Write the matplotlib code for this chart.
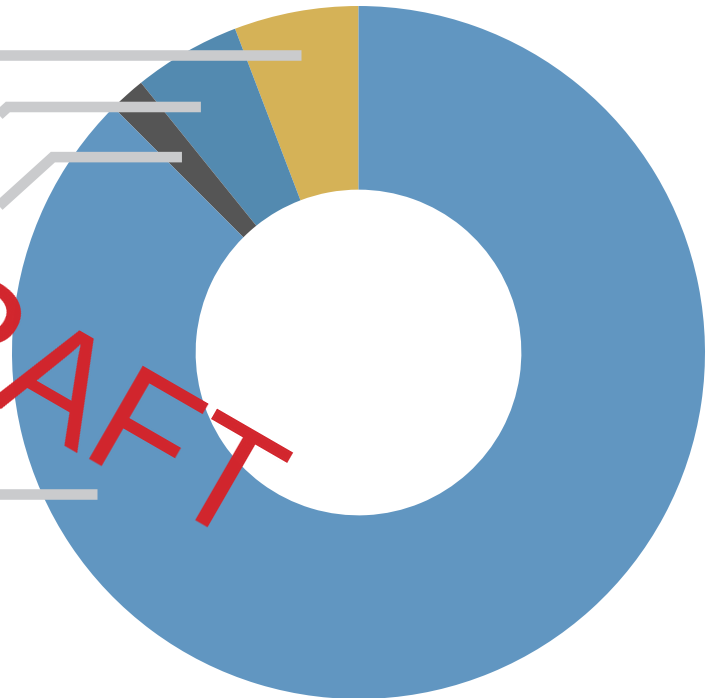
import matplotlib
matplotlib.use("Agg")
import matplotlib.pyplot as plt
import numpy as np

# Ring shares, counter-clockwise from 12 o'clock
shares = [5.8, 5.0, 1.7, 87.5]
colors = ["#D5B257", "#538AB0", "#555555", "#6196C1"]

# Leader lines: anchor on the ring (angle in degrees, radius) and the elbow
# the line runs out from, in axes units of the ring radius
leader_anchor = [(100.9, 0.874), (122.7, 0.842), (132.1, 0.760), (208.4, 0.858)]
leader_elbow = [None, (-1.012, 0.855), (-0.882, 0.565), None]
LINE_COLOR = "#CACBCD"

W, H, DPI = 712, 698, 100
CX, CY, R = 358.5, 352.5, 346.5  # ring centre and radius in pixels

fig = plt.figure(figsize=(W / DPI, H / DPI), dpi=DPI)
ax = fig.add_axes([0, 0, 1, 1])

ax.pie(shares, colors=colors, startangle=90, counterclock=True, radius=1.0,
       wedgeprops=dict(width=0.53, linewidth=0))

# pie() resets the limits, so set them afterwards
ax.set_aspect("auto")
ax.set_xlim(-CX / R, (W - CX) / R)
ax.set_ylim(-(H - CY) / R, CY / R)
ax.axis("off")

for (ang, rad), elbow in zip(leader_anchor, leader_elbow):
    ex = rad * np.cos(np.radians(ang))
    ey = rad * np.sin(np.radians(ang))
    if elbow is None:
        xs, ys = [-1.5, ex], [ey, ey]
    else:
        bx = elbow[0]
        xs = [bx - 0.5, bx, ex]
        ys = [ey - 0.5 * 0.906, ey, ey]
    ax.plot(xs, ys, color=LINE_COLOR, lw=7.6, solid_capstyle="butt",
            solid_joinstyle="miter", zorder=3, clip_on=False)

ax.text(-0.93, -0.105, "DRAFT", color="#D2252C", fontsize=112,
        family="Liberation Sans", rotation=-30, rotation_mode="anchor",
        ha="center", va="center", zorder=4)

fig.savefig("out.png", dpi=DPI)
